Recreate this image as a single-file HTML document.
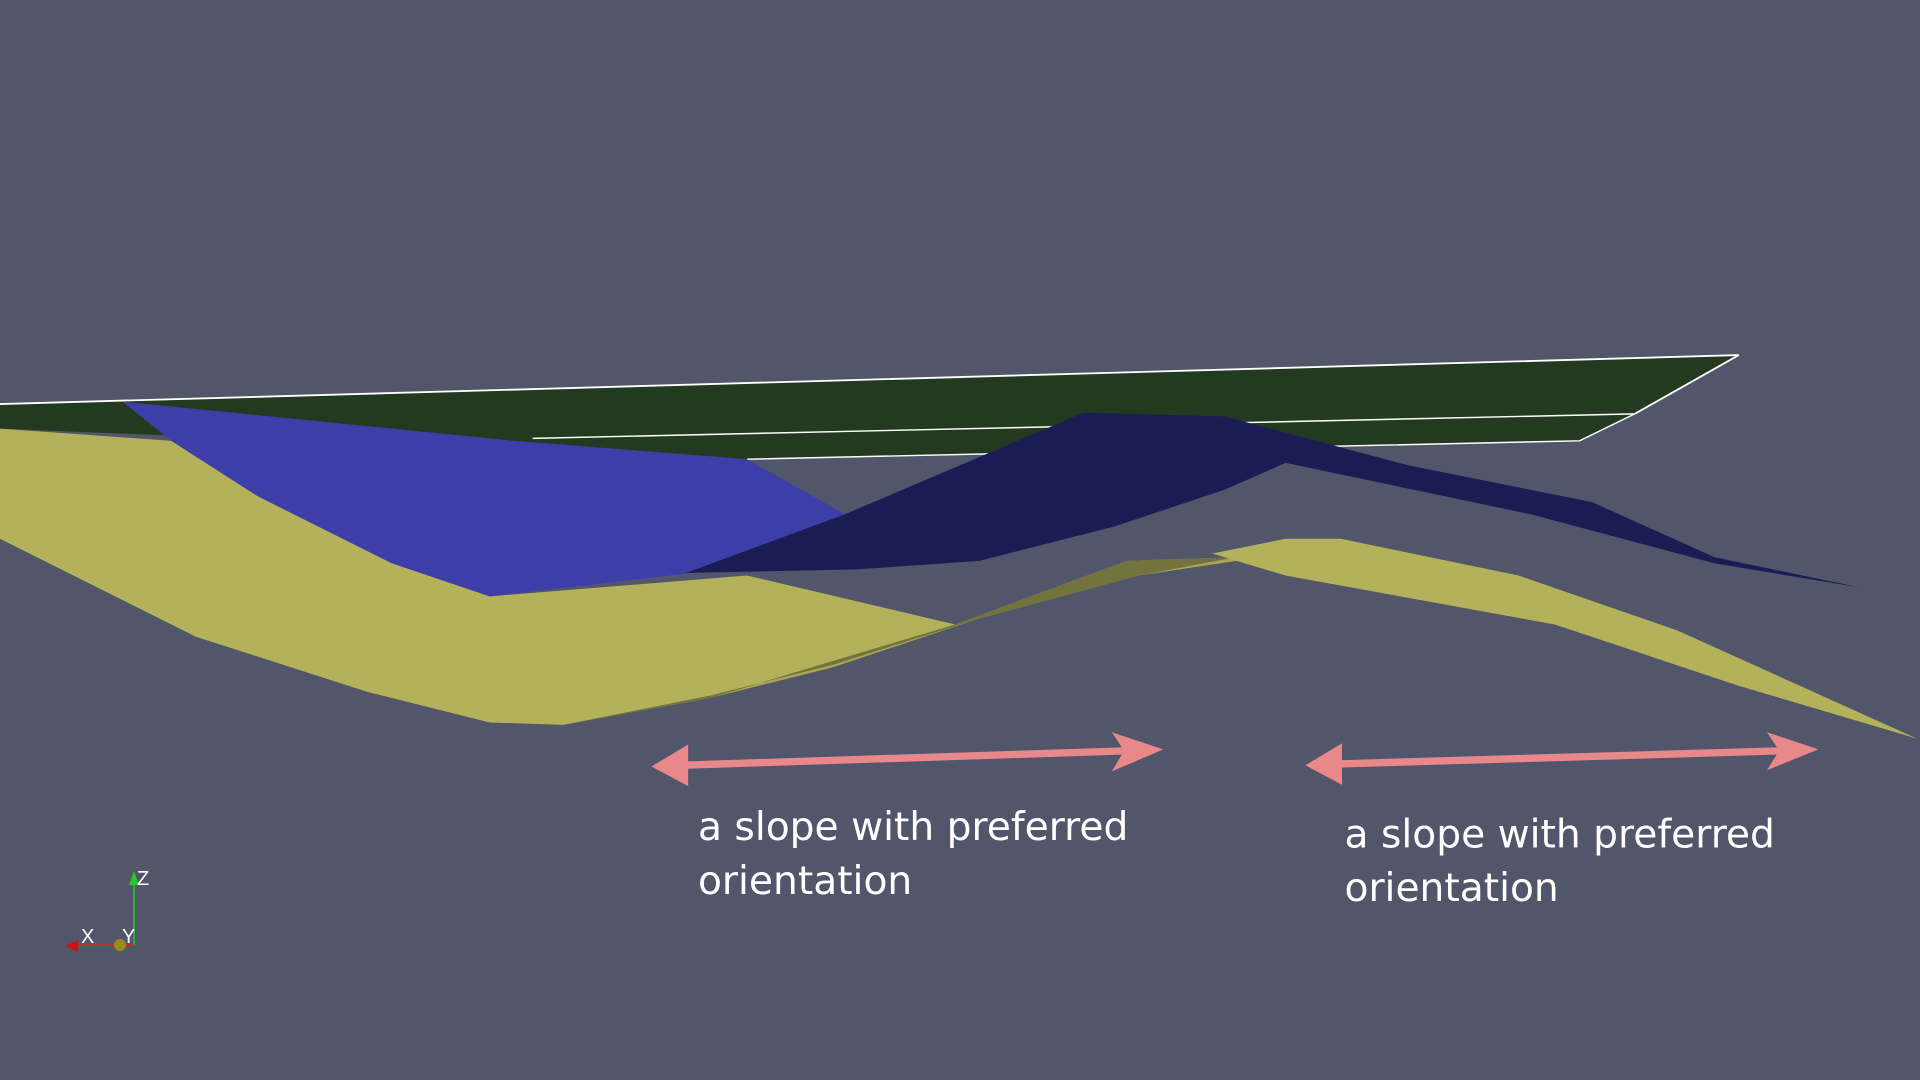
<!DOCTYPE html>
<html><head><meta charset="utf-8"><style>
html,body{margin:0;padding:0;background:#52566b;width:1920px;height:1080px;overflow:hidden}
svg{display:block}
</style></head><body>
<svg width="1920" height="1080" viewBox="0 0 1568 882" xmlns="http://www.w3.org/2000/svg">
<rect width="1568" height="882" fill="#52566b"/>
<polygon points="0,330 1420,290 1335,338 1290,360 610,375 0,350" fill="#243a20"/>
<polyline points="0,330 1420,290 1335,338" fill="none" stroke="#fff" stroke-width="1.5"/>
<line x1="435" y1="358" x2="1335" y2="338" stroke="#fff" stroke-width="1.2"/>
<polyline points="610,375 1290,360 1335,338" fill="none" stroke="#fff" stroke-width="1.2"/>
<polygon points="0,350 140,360 210,405 320,460 400,487 610,470 780,510 580,570 460,592 400,590 300,565 160,520 40,460 0,440" fill="#b3b15a"/>
<polygon points="580,570 780,510 920,458 1010,455 1090,440 1240,470 1370,515 1565,603 1420,560 1270,510 1050,470 1010,458 930,470 800,505 680,545" fill="#a8a655"/>
<polygon points="460,592 580,570 780,510 920,458 1010,455 930,470 800,505 680,543 580,568" fill="#6a6a3a" opacity="0.85"/>
<polygon points="990,452 1050,440 1095,440 1240,470 1370,515 1565,603 1420,560 1270,510 1050,470" fill="#b3b15a"/>
<polygon points="100,328 420,360 610,375 690,420 590,465 400,487 320,460 210,405 140,360" fill="#3d3ea8"/>
<polygon points="560,468 690,420 885,337 1000,340 1150,380 1300,410 1400,455 1520,480 1400,460 1250,420 1050,378 1000,400 910,430 800,458 700,465" fill="#1c1c55"/>
<g fill="#e8888a" stroke="#e8888a">
<line x1="555" y1="625" x2="925" y2="613" stroke-width="6"/>
<polygon points="532,626 562,608 562,642" stroke="none"/>
<polygon points="950,612 908,598 918,613 908,630" stroke="none"/>
<line x1="1090" y1="624" x2="1460" y2="613" stroke-width="6"/>
<polygon points="1066,625 1096,607 1096,641" stroke="none"/>
<polygon points="1485,612 1443,598 1453,613 1443,629" stroke="none"/>
</g>
<g fill="#fff" font-family="'DejaVu Sans','Liberation Sans',sans-serif" font-size="32">
<text x="570" y="686">a slope with preferred</text>
<text x="570" y="730">orientation</text>
<text x="1098" y="692">a slope with preferred</text>
<text x="1098" y="736">orientation</text>
</g>
<g transform="scale(0.81667)" font-family="'Liberation Sans',sans-serif" font-size="20" fill="#fff">
<line x1="134" y1="880" x2="134" y2="945" stroke="#2c2" stroke-width="1.5"/>
<polygon points="134,871 129,885 139,885" fill="#2c2"/>
<line x1="70" y1="945" x2="134" y2="945" stroke="#d22" stroke-width="1.5"/>
<polygon points="65,946 78,940 78,952" fill="#c11"/>
<circle cx="120" cy="945" r="6" fill="#9a8a20"/>
<text x="137" y="885">Z</text>
<text x="81" y="943">X</text>
<text x="122" y="943">Y</text>
</g>
</svg>
</body></html>
